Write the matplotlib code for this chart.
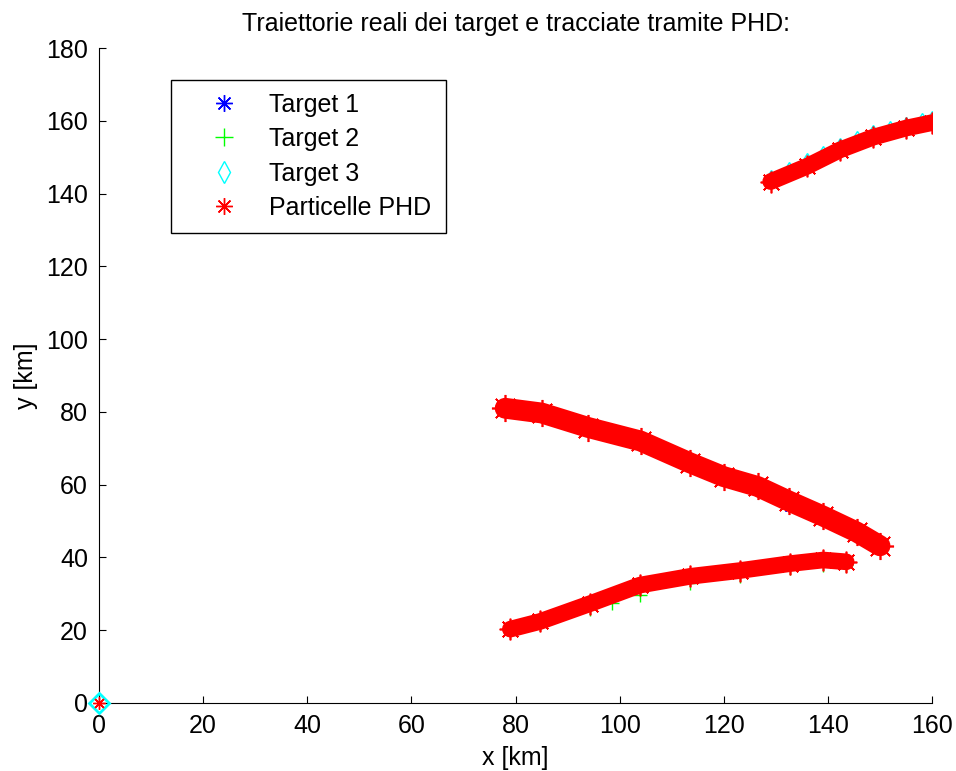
import matplotlib.pyplot as plt

plt.rcParams['font.family'] = ['Liberation Sans', 'DejaVu Sans']

# PHD particle bands (centre of the red clouds)
phd1_x = [78, 85, 94, 104, 113.5, 120, 126.5, 132.5, 139, 145.5, 150]
phd1_y = [81, 79.7, 75.7, 72, 66, 62.2, 59.5, 55.5, 51.4, 47, 43.2]
phd2_x = [79, 84.7, 94.3, 103.9, 113.5, 123.1, 132.7, 139.1, 143.5]
phd2_y = [20.3, 22.4, 27.3, 32.4, 34.8, 36.4, 38.3, 39.3, 38.8]
phd3_x = [129, 136, 142.3, 148.7, 155, 160]
phd3_y = [143.3, 147.5, 152, 155.5, 158, 159.5]

# true target trajectories
t1_x = [78, 85, 94, 104, 113.5, 120, 126.5, 132.5, 139, 145.5, 150]
t1_y = [81, 79.5, 75.5, 71.5, 65.5, 61.4, 58.4, 54.0, 50.4, 46.2, 42.8]
t2_x = [79, 84.7, 94.3, 98.5, 103.9, 113.5, 123.1, 132.7, 139.1, 143.5]
t2_y = [20.0, 21.8, 25.8, 27.6, 29.6, 33.0, 35.0, 37.0, 37.8, 38.0]
t3_x = [129, 132.5, 136, 139, 142.3, 145.5, 148.7, 152, 155, 158, 160]
t3_y = [144.2, 146.6, 148.9, 151.0, 153.2, 155.0, 156.6, 157.8, 158.9, 160.0, 160.6]

# points sitting at the origin
orig_x = [0]
orig_y = [0]

fig = plt.figure(figsize=(9.56, 7.71), dpi=100)
ax = fig.add_axes([0.1036, 0.0882, 0.8714, 0.8495])

star = (8, 2, 0)

ax.plot(t1_x, t1_y, linestyle='none', marker=star, color='blue', markersize=8, label='Target 1')
ax.plot(t2_x, t2_y, linestyle='none', marker='+', color='#00ff00', markersize=10, label='Target 2')
ax.plot(t3_x, t3_y, linestyle='none', marker='d', color='cyan', markersize=8,
        markerfacecolor='none', label='Target 3')

for px, py, lw in [(phd1_x, phd1_y, 15), (phd2_x, phd2_y, 12), (phd3_x, phd3_y, 12)]:
    ax.plot(px, py, color='red', linewidth=lw, solid_capstyle='round', zorder=3)
    ax.plot(px, py, linestyle='none', marker=star, color='red', markersize=lw * 1.3,
            markeredgewidth=1.2, zorder=3)

ax.plot(orig_x, orig_y, linestyle='none', marker='D', color='cyan', markersize=10,
        markerfacecolor='none', markeredgewidth=2, clip_on=False, zorder=4)
ax.plot(orig_x, orig_y, linestyle='none', marker=star, color='red', markersize=9,
        clip_on=False, zorder=5)

# legend-only handle for the particles
ax.plot([], [], linestyle='none', marker=star, color='red', markersize=11, label='Particelle PHD')

ax.set_xlim(0, 160)
ax.set_ylim(0, 180)
ax.set_xticks(range(0, 161, 20))
ax.set_yticks(range(0, 181, 20))
ax.tick_params(direction='in', length=5, labelsize=18, pad=8)
ax.spines['top'].set_visible(False)
ax.spines['right'].set_visible(False)

ax.set_title('Traiettorie reali dei target e tracciate tramite PHD:', fontsize=18, pad=12)
ax.set_xlabel('x [km]', fontsize=18, labelpad=6)
ax.set_ylabel('y [km]', fontsize=18, labelpad=6)

leg = ax.legend(loc='upper left', bbox_to_anchor=(0.0864, 0.951, 0.33, 0.0), mode='expand',
                fontsize=18, fancybox=False, edgecolor='black', framealpha=1,
                borderpad=0.5, labelspacing=0.42, handlelength=3.2, handletextpad=0.2,
                borderaxespad=0)
leg.get_frame().set_linewidth(1.0)
for h, ms in zip(leg.legend_handles, [12, 13, 11, 12]):
    h.set_markersize(ms)

fig.savefig('out.png', dpi=100)
